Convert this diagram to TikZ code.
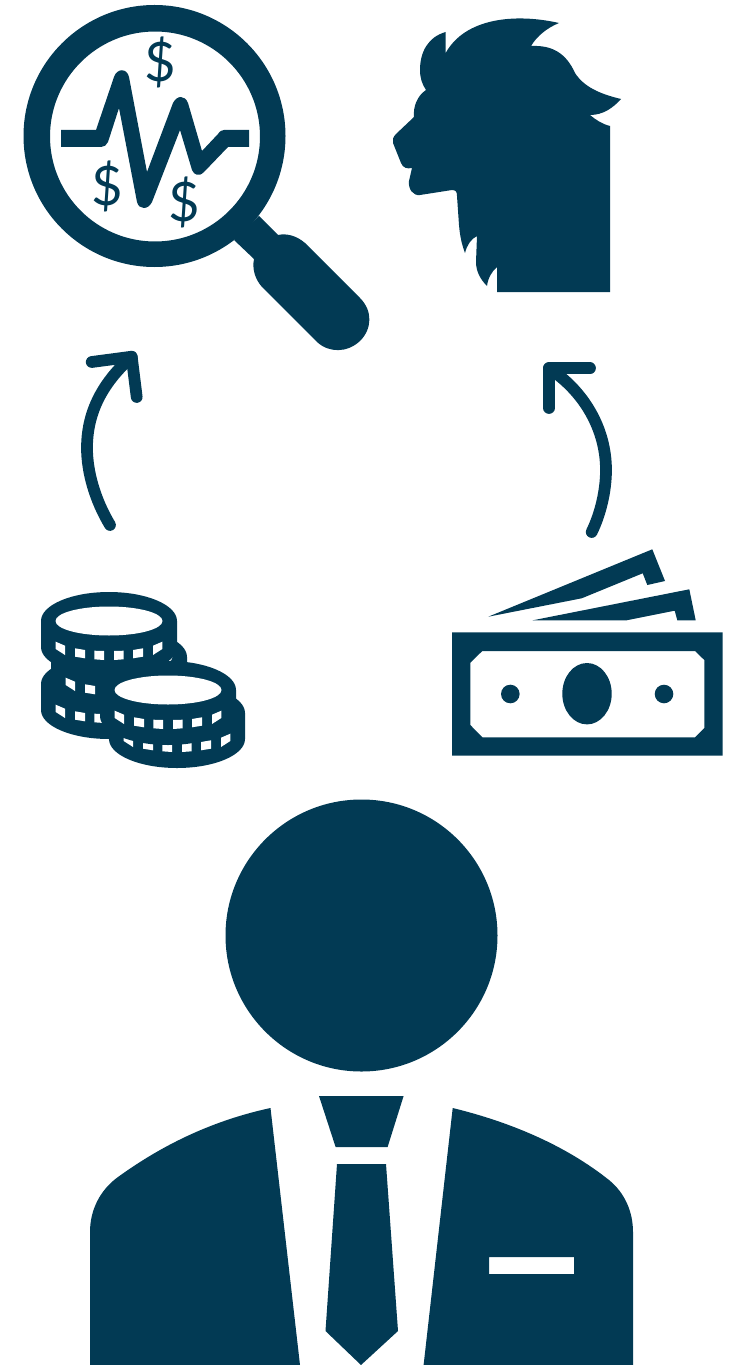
\documentclass[tikz,border=0pt]{standalone}
\usepackage{fontspec}
\usetikzlibrary{positioning,calc}
\definecolor{iconblue}{HTML}{023A54}
\newfontfamily\dollarfont{Lato}
\tikzset{
  iconfill/.style={fill=iconblue, draw=none},
  holefill/.style={fill=white, draw=none},
  curvearrow/.style={draw=iconblue, line width=0.235cm, line cap=round, line join=round},
  dollarsign/.style={text=iconblue, inner sep=0pt, font=\dollarfont\fontsize{31}{31}\selectfont}
}
\newcommand{\coinicon}[2]{%
  \begin{scope}[shift={(#1,#2)}]
    \fill[iconfill] (-68,0) arc[start angle=180, end angle=360, x radius=68, y radius=29]
      -- (68,26) arc[start angle=0, end angle=180, x radius=68, y radius=29] -- cycle;
    \fill[holefill] (0,0) ellipse[x radius=53.5, y radius=14.5];
    \foreach \sx in {-1,1} {
      \begin{scope}[xscale=\sx]
        \fill[holefill] (-53.3,20.7) -- (-44,24.7) -- (-44,34) -- (-53.3,28) -- cycle;
        \fill[holefill] (-34,27.3) -- (-24,29) -- (-24,37.3) -- (-34,35.7) -- cycle;
        \fill[holefill] (-14.7,29.7) -- (-5,30) -- (-5,39) -- (-14.7,38.3) -- cycle;
      \end{scope}
    }
  \end{scope}
}

\begin{document}
\begin{tikzpicture}[x=0.02cm, y=-0.02cm]
\useasboundingbox (0,0) rectangle (738,1365);

% magnifier
\fill[iconfill] (259,216) -- (278,235) .. controls (287,233) and (297,236) .. (305,243)
  -- (360,298) .. controls (373,311) and (372,329) .. (360,341)
  .. controls (347,353) and (329,353) .. (317,342) -- (262,287)
  .. controls (255,279) and (252,269) .. (254,259) -- (234,240) -- cycle;
\fill[iconfill, even odd rule] (154.5,136) circle[radius=131] (155,136.5) circle[radius=105];
\fill[iconfill] (61,130) -- (96,130) -- (114,77) .. controls (117,68) and (127,68) .. (129,77)
  -- (147,172) -- (173,103) .. controls (177,95) and (185,95) .. (188,103)
  -- (202,151) -- (218,134) .. controls (220,131) and (222,130) .. (224,130)
  -- (249,130) -- (249,147) -- (228,147) -- (204,172) .. controls (199,177) and (194,175) .. (192,170)
  -- (180,130) -- (152,202) .. controls (148,210) and (139,210) .. (137,202)
  -- (119,108) -- (108,142) .. controls (107,145) and (104,147) .. (101,147) -- (61,147) -- cycle;
\node[dollarsign] (dollarTop) at (160,62) {\$};
\node[dollarsign] (dollarLeft) at (107,186) {\$};
\node[dollarsign] (dollarRight) at (184,202) {\$};

% lion
\fill[iconfill] (445.7,32) .. controls (428,37) and (420,52) .. (420,70)
  .. controls (420,78) and (422,84) .. (426,90) .. controls (417,96) and (413,107) .. (414,117)
  -- (396,134) .. controls (393,137) and (392,140) .. (393,143) -- (401,163)
  .. controls (403,168) and (407,169) .. (412,168) -- (409,181)
  .. controls (408,189) and (413,196) .. (420,195) -- (452,190)
  .. controls (456,190) and (457,192) .. (457,196) -- (459,225)
  .. controls (460,237) and (462,245) .. (465,253) .. controls (467,245) and (471,239) .. (477,236)
  -- (476,262) .. controls (476,272) and (481,280) .. (487,286)
  .. controls (488,278) and (492,271) .. (497,267) -- (497,292) -- (610,292) -- (610,126)
  .. controls (602,124) and (596,120) .. (590,115) .. controls (603,115) and (613,108) .. (621,99)
  .. controls (600,94) and (584,87) .. (575,73) .. controls (566,53) and (552,45) .. (531,46)
  .. controls (537,36) and (547,28) .. (559,23) .. controls (515,13) and (465,18) .. (445.7,53) -- cycle;

% arrows
\coordinate (coinsTail) at (110,525);
\coordinate (lensTip) at (131.7,356.7);
\coordinate (lensBarbA) at (91.7,362);
\coordinate (lensBarbB) at (136.7,397);
\draw[curvearrow] (coinsTail) .. controls (95,500) and (87,472) .. (87,448)
  .. controls (87,415) and (100,385) .. (lensTip);
\draw[curvearrow] (lensBarbA) -- (lensTip) -- (lensBarbB);
\coordinate (billTail) at (591.7,532);
\coordinate (lionTip) at (549,368.3);
\coordinate (lionBarbA) at (590,368.3);
\coordinate (lionBarbB) at (549,408);
\draw[curvearrow] (billTail) .. controls (600,515) and (606,492) .. (606,470)
  .. controls (606,430) and (585,392) .. (lionTip);
\draw[curvearrow] (lionBarbA) -- (lionTip) -- (lionBarbB);

% coins
\coinicon{109}{684}
\coinicon{119}{657}
\coinicon{109}{621}
\coinicon{177}{713}
\coinicon{168}{690}

% banknotes
\fill[iconfill] (488.3,616.7) -- (652.3,549.3) -- (665,581) -- (647.3,585) -- (642.7,573.3) -- (581.7,598.3) -- cycle;
\fill[iconfill] (532.7,620.3) -- (689.3,589.3) -- (695.7,620.3) -- (677.3,620.3) -- (674.7,610.7) -- (626.7,620.3) -- cycle;
\fill[iconfill, even odd rule] (452,632.3) rectangle (722.7,755.7)
  (482.3,651) -- (695,651) -- (704.3,660) -- (704.3,728) -- (695,737.3) -- (482.3,737.3) -- (470.3,725) -- (470.3,662.7) -- cycle;
\fill[iconfill] (587,693.7) ellipse[x radius=24.7, y radius=30.7];
\fill[iconfill] (510.3,694) circle[radius=9.3];
\fill[iconfill] (664,694) circle[radius=9.3];

% person
\fill[iconfill] (361.5,935.5) circle[radius=136];
\fill[iconfill] (270.5,1108) .. controls (215,1120) and (165,1143) .. (118,1177)
  .. controls (100,1190) and (90,1210) .. (90,1232) -- (90,1365) -- (300,1365) -- cycle;
\fill[iconfill, even odd rule] (452.7,1108) .. controls (510,1122) and (565,1145) .. (609,1180)
  .. controls (625,1193) and (633,1212) .. (633,1232) -- (633,1365) -- (423.6,1365) -- cycle
  (489,1257) rectangle (574,1274);
\fill[iconfill] (319,1096) -- (403.6,1096) -- (387.6,1147) -- (335.6,1147) -- cycle;
\fill[iconfill] (337,1164) -- (386,1164) -- (398,1331) -- (361,1365) -- (325.5,1331) -- cycle;
\end{tikzpicture}
\end{document}
